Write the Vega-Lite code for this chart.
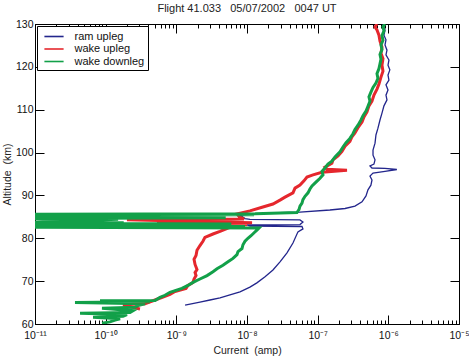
{
  "$schema": "https://vega.github.io/schema/vega-lite/v6.json",
  "width": 424,
  "height": 300,
  "autosize": "none",
  "padding": {"left": 35, "top": 24, "right": 10, "bottom": 36},
  "title": {
    "text": "Flight 41.033\u00a0\u00a0 05/07/2002\u00a0\u00a0 0047 UT",
    "fontSize": 11, "fontWeight": "normal", "font": "Liberation Sans",
    "anchor": "middle", "offset": 5, "color": "#222222"
  },
  "config": {
    "view": {"stroke": "black", "strokeWidth": 1},
    "font": "Liberation Sans",
    "axis": {
      "grid": false, "domainColor": "black", "tickColor": "black",
      "labelColor": "#111111", "titleColor": "#222222",
      "labelFont": "Liberation Sans", "titleFont": "Liberation Sans",
      "labelFontSize": 10.5, "titleFontSize": 10.5, "titleFontWeight": "normal"
    },
    "legend": {
      "orient": "top-left", "offset": 2, "strokeColor": "black", "fillColor": "white",
      "padding": 3.5, "symbolType": "M-1.6,0H1.6", "symbolSize": 144, "symbolStrokeWidth": 1.6,
      "symbolOffset": 6.5, "labelOffset": 13.5, "rowPadding": 0.5,
      "labelFontSize": 11, "labelFont": "Liberation Sans", "labelColor": "#111111",
      "cornerRadius": 0
    }
  },
  "datasets": {
    "profiles": [
      {"s": "ram upleg", "a": 64.4, "c": 1.33e-9},
      {"s": "ram upleg", "a": 65.1, "c": 2.16e-9},
      {"s": "ram upleg", "a": 65.6, "c": 2.99e-9},
      {"s": "ram upleg", "a": 66.1, "c": 4.15e-9},
      {"s": "ram upleg", "a": 66.8, "c": 5.74e-9},
      {"s": "ram upleg", "a": 67.5, "c": 7.96e-9},
      {"s": "ram upleg", "a": 68.6, "c": 1.10e-8},
      {"s": "ram upleg", "a": 69.6, "c": 1.38e-8},
      {"s": "ram upleg", "a": 71.0, "c": 1.80e-8},
      {"s": "ram upleg", "a": 72.6, "c": 2.33e-8},
      {"s": "ram upleg", "a": 74.5, "c": 2.93e-8},
      {"s": "ram upleg", "a": 76.6, "c": 3.68e-8},
      {"s": "ram upleg", "a": 78.9, "c": 4.47e-8},
      {"s": "ram upleg", "a": 81.5, "c": 5.26e-8},
      {"s": "ram upleg", "a": 82.2, "c": 6.19e-8},
      {"s": "ram upleg", "a": 82.75, "c": 6.00e-8},
      {"s": "ram upleg", "a": 82.87, "c": 1.10e-8},
      {"s": "ram upleg", "a": 83.1, "c": 1.00e-8},
      {"s": "ram upleg", "a": 83.2, "c": 5.62e-8},
      {"s": "ram upleg", "a": 83.8, "c": 6.19e-8},
      {"s": "ram upleg", "a": 84.3, "c": 5.62e-8},
      {"s": "ram upleg", "a": 84.4, "c": 1.10e-8},
      {"s": "ram upleg", "a": 84.6, "c": 9.37e-9},
      {"s": "ram upleg", "a": 85.4, "c": 7.96e-9},
      {"s": "ram upleg", "a": 85.9, "c": 2.11e-8},
      {"s": "ram upleg", "a": 86.1, "c": 5.62e-8},
      {"s": "ram upleg", "a": 86.6, "c": 1.49e-7},
      {"s": "ram upleg", "a": 86.95, "c": 2.44e-7},
      {"s": "ram upleg", "a": 87.5, "c": 3.37e-7},
      {"s": "ram upleg", "a": 88.5, "c": 4.24e-7},
      {"s": "ram upleg", "a": 89.9, "c": 4.83e-7},
      {"s": "ram upleg", "a": 91.3, "c": 5.15e-7},
      {"s": "ram upleg", "a": 92.4, "c": 5.67e-7},
      {"s": "ram upleg", "a": 93.6, "c": 5.87e-7},
      {"s": "ram upleg", "a": 94.5, "c": 5.50e-7},
      {"s": "ram upleg", "a": 95.2, "c": 6.07e-7},
      {"s": "ram upleg", "a": 95.6, "c": 8.97e-7},
      {"s": "ram upleg", "a": 96.05, "c": 1.32e-6},
      {"s": "ram upleg", "a": 96.3, "c": 8.97e-7},
      {"s": "ram upleg", "a": 96.4, "c": 5.87e-7},
      {"s": "ram upleg", "a": 96.9, "c": 5.50e-7},
      {"s": "ram upleg", "a": 97.3, "c": 6.26e-7},
      {"s": "ram upleg", "a": 98.3, "c": 6.48e-7},
      {"s": "ram upleg", "a": 99.4, "c": 6.07e-7},
      {"s": "ram upleg", "a": 100.6, "c": 6.07e-7},
      {"s": "ram upleg", "a": 102.2, "c": 6.48e-7},
      {"s": "ram upleg", "a": 104.1, "c": 6.68e-7},
      {"s": "ram upleg", "a": 105.7, "c": 7.13e-7},
      {"s": "ram upleg", "a": 107.6, "c": 7.62e-7},
      {"s": "ram upleg", "a": 109.2, "c": 8.13e-7},
      {"s": "ram upleg", "a": 110.9, "c": 8.67e-7},
      {"s": "ram upleg", "a": 112.3, "c": 9.57e-7},
      {"s": "ram upleg", "a": 113.4, "c": 9.26e-7},
      {"s": "ram upleg", "a": 114.6, "c": 9.89e-7},
      {"s": "ram upleg", "a": 115.8, "c": 9.26e-7},
      {"s": "ram upleg", "a": 116.9, "c": 1.02e-6},
      {"s": "ram upleg", "a": 118.1, "c": 9.89e-7},
      {"s": "ram upleg", "a": 119.3, "c": 1.05e-6},
      {"s": "ram upleg", "a": 120.4, "c": 9.89e-7},
      {"s": "ram upleg", "a": 121.6, "c": 1.02e-6},
      {"s": "ram upleg", "a": 122.8, "c": 9.26e-7},
      {"s": "ram upleg", "a": 123.9, "c": 9.57e-7},
      {"s": "ram upleg", "a": 125.1, "c": 8.97e-7},
      {"s": "ram upleg", "a": 126.3, "c": 9.26e-7},
      {"s": "ram upleg", "a": 127.4, "c": 8.67e-7},
      {"s": "ram upleg", "a": 128.6, "c": 8.97e-7},
      {"s": "ram upleg", "a": 130.0, "c": 8.40e-7},

      {"s": "wake upleg", "a": 63.5, "c": 3.06e-10},
      {"s": "wake upleg", "a": 64.4, "c": 1.76e-10},
      {"s": "wake upleg", "a": 64.6, "c": 2.44e-10},
      {"s": "wake upleg", "a": 64.7, "c": 3.60e-10},
      {"s": "wake upleg", "a": 65.6, "c": 4.99e-10},
      {"s": "wake upleg", "a": 66.3, "c": 6.47e-10},
      {"s": "wake upleg", "a": 66.9, "c": 8.13e-10},
      {"s": "wake upleg", "a": 67.6, "c": 9.57e-10},
      {"s": "wake upleg", "a": 68.3, "c": 1.37e-9},
      {"s": "wake upleg", "a": 69.0, "c": 1.46e-9},
      {"s": "wake upleg", "a": 69.7, "c": 1.72e-9},
      {"s": "wake upleg", "a": 70.5, "c": 1.78e-9},
      {"s": "wake upleg", "a": 71.3, "c": 1.90e-9},
      {"s": "wake upleg", "a": 72.0, "c": 1.84e-9},
      {"s": "wake upleg", "a": 72.7, "c": 1.96e-9},
      {"s": "wake upleg", "a": 73.9, "c": 1.84e-9},
      {"s": "wake upleg", "a": 75.1, "c": 1.78e-9},
      {"s": "wake upleg", "a": 76.0, "c": 1.90e-9},
      {"s": "wake upleg", "a": 77.2, "c": 1.96e-9},
      {"s": "wake upleg", "a": 78.3, "c": 2.16e-9},
      {"s": "wake upleg", "a": 79.3, "c": 2.38e-9},
      {"s": "wake upleg", "a": 80.2, "c": 2.54e-9},
      {"s": "wake upleg", "a": 81.0, "c": 3.30e-9},
      {"s": "wake upleg", "a": 81.6, "c": 4.15e-9},
      {"s": "wake upleg", "a": 82.4, "c": 5.38e-9},
      {"s": "wake upleg", "a": 82.9, "c": 6.76e-9},
      {"s": "wake upleg", "a": 83.2, "c": 1.00e-8},
      {"s": "wake upleg", "a": 83.5, "c": 5.32e-10},
      {"s": "wake upleg", "a": 83.6, "c": 1.18e-8},
      {"s": "wake upleg", "a": 84.3, "c": 2.00e-10},
      {"s": "wake upleg", "a": 84.5, "c": 9.07e-9},
      {"s": "wake upleg", "a": 85.0, "c": 7.80e-9},
      {"s": "wake upleg", "a": 85.7, "c": 7.22e-9},
      {"s": "wake upleg", "a": 86.4, "c": 1.10e-8},
      {"s": "wake upleg", "a": 87.3, "c": 1.68e-8},
      {"s": "wake upleg", "a": 88.0, "c": 2.33e-8},
      {"s": "wake upleg", "a": 88.9, "c": 2.93e-8},
      {"s": "wake upleg", "a": 89.6, "c": 3.45e-8},
      {"s": "wake upleg", "a": 90.6, "c": 4.47e-8},
      {"s": "wake upleg", "a": 91.7, "c": 4.78e-8},
      {"s": "wake upleg", "a": 92.4, "c": 5.62e-8},
      {"s": "wake upleg", "a": 93.4, "c": 6.40e-8},
      {"s": "wake upleg", "a": 94.3, "c": 7.06e-8},
      {"s": "wake upleg", "a": 94.8, "c": 8.59e-8},
      {"s": "wake upleg", "a": 95.4, "c": 1.15e-7},
      {"s": "wake upleg", "a": 95.9, "c": 2.60e-7},
      {"s": "wake upleg", "a": 96.1, "c": 1.35e-7},
      {"s": "wake upleg", "a": 96.6, "c": 1.27e-7},
      {"s": "wake upleg", "a": 97.5, "c": 1.59e-7},
      {"s": "wake upleg", "a": 98.3, "c": 1.65e-7},
      {"s": "wake upleg", "a": 99.2, "c": 1.94e-7},
      {"s": "wake upleg", "a": 100.3, "c": 2.21e-7},
      {"s": "wake upleg", "a": 101.5, "c": 2.44e-7},
      {"s": "wake upleg", "a": 102.6, "c": 2.86e-7},
      {"s": "wake upleg", "a": 103.7, "c": 3.06e-7},
      {"s": "wake upleg", "a": 104.6, "c": 3.37e-7},
      {"s": "wake upleg", "a": 105.8, "c": 3.72e-7},
      {"s": "wake upleg", "a": 107.1, "c": 4.24e-7},
      {"s": "wake upleg", "a": 108.3, "c": 4.52e-7},
      {"s": "wake upleg", "a": 109.5, "c": 4.99e-7},
      {"s": "wake upleg", "a": 110.9, "c": 5.32e-7},
      {"s": "wake upleg", "a": 112.0, "c": 5.87e-7},
      {"s": "wake upleg", "a": 113.4, "c": 6.26e-7},
      {"s": "wake upleg", "a": 114.8, "c": 6.91e-7},
      {"s": "wake upleg", "a": 116.0, "c": 7.37e-7},
      {"s": "wake upleg", "a": 117.6, "c": 7.87e-7},
      {"s": "wake upleg", "a": 119.0, "c": 8.40e-7},
      {"s": "wake upleg", "a": 120.4, "c": 8.13e-7},
      {"s": "wake upleg", "a": 121.9, "c": 8.40e-7},
      {"s": "wake upleg", "a": 123.2, "c": 7.87e-7},
      {"s": "wake upleg", "a": 124.6, "c": 8.13e-7},
      {"s": "wake upleg", "a": 126.0, "c": 7.62e-7},
      {"s": "wake upleg", "a": 127.4, "c": 7.37e-7},
      {"s": "wake upleg", "a": 128.6, "c": 6.91e-7},
      {"s": "wake upleg", "a": 129.3, "c": 6.48e-7},
      {"s": "wake upleg", "a": 130.0, "c": 6.91e-7},

      {"s": "wake downleg", "a": 60.2, "c": 8.87e-11},
      {"s": "wake downleg", "a": 60.5, "c": 1.15e-10},
      {"s": "wake downleg", "a": 60.9, "c": 1.36e-10},
      {"s": "wake downleg", "a": 61.2, "c": 1.60e-10},
      {"s": "wake downleg", "a": 61.6, "c": 6.63e-11},
      {"s": "wake downleg", "a": 61.8, "c": 1.76e-10},
      {"s": "wake downleg", "a": 62.2, "c": 2.00e-10},
      {"s": "wake downleg", "a": 62.5, "c": 4.34e-11},
      {"s": "wake downleg", "a": 62.7, "c": 2.21e-10},
      {"s": "wake downleg", "a": 63.1, "c": 2.44e-10},
      {"s": "wake downleg", "a": 63.7, "c": 8.87e-11},
      {"s": "wake downleg", "a": 63.9, "c": 2.60e-10},
      {"s": "wake downleg", "a": 64.3, "c": 2.87e-10},
      {"s": "wake downleg", "a": 64.7, "c": 3.60e-10},
      {"s": "wake downleg", "a": 65.0, "c": 3.68e-11},
      {"s": "wake downleg", "a": 65.2, "c": 4.24e-10},
      {"s": "wake downleg", "a": 65.4, "c": 8.32e-11},
      {"s": "wake downleg", "a": 65.5, "c": 4.99e-10},
      {"s": "wake downleg", "a": 66.2, "c": 5.87e-10},
      {"s": "wake downleg", "a": 66.7, "c": 6.91e-10},
      {"s": "wake downleg", "a": 67.4, "c": 8.13e-10},
      {"s": "wake downleg", "a": 68.3, "c": 1.20e-9},
      {"s": "wake downleg", "a": 69.0, "c": 1.46e-9},
      {"s": "wake downleg", "a": 69.7, "c": 1.72e-9},
      {"s": "wake downleg", "a": 70.5, "c": 2.16e-9},
      {"s": "wake downleg", "a": 71.3, "c": 2.72e-9},
      {"s": "wake downleg", "a": 72.2, "c": 3.30e-9},
      {"s": "wake downleg", "a": 72.9, "c": 3.76e-9},
      {"s": "wake downleg", "a": 73.7, "c": 4.57e-9},
      {"s": "wake downleg", "a": 74.5, "c": 5.38e-9},
      {"s": "wake downleg", "a": 75.3, "c": 6.34e-9},
      {"s": "wake downleg", "a": 76.2, "c": 7.22e-9},
      {"s": "wake downleg", "a": 76.9, "c": 7.46e-9},
      {"s": "wake downleg", "a": 77.6, "c": 8.49e-9},
      {"s": "wake downleg", "a": 78.5, "c": 8.77e-9},
      {"s": "wake downleg", "a": 79.3, "c": 9.37e-9},
      {"s": "wake downleg", "a": 80.0, "c": 1.03e-8},
      {"s": "wake downleg", "a": 80.6, "c": 1.14e-8},
      {"s": "wake downleg", "a": 81.3, "c": 1.26e-8},
      {"s": "wake downleg", "a": 81.9, "c": 1.38e-8},
      {"s": "wake downleg", "a": 82.4, "c": 1.48e-8},
      {"s": "wake downleg", "a": 82.6, "c": 1.0e-11},
      {"s": "wake downleg", "a": 82.75, "c": 9.37e-9},
      {"s": "wake downleg", "a": 82.9, "c": 1.0e-11},
      {"s": "wake downleg", "a": 83.05, "c": 3.0e-10},
      {"s": "wake downleg", "a": 83.2, "c": 1.0e-11},
      {"s": "wake downleg", "a": 83.35, "c": 6.0e-9},
      {"s": "wake downleg", "a": 83.5, "c": 1.0e-11},
      {"s": "wake downleg", "a": 83.65, "c": 1.8e-10},
      {"s": "wake downleg", "a": 83.8, "c": 1.0e-11},
      {"s": "wake downleg", "a": 84.45, "c": 1.5e-10},
      {"s": "wake downleg", "a": 84.6, "c": 1.0e-11},
      {"s": "wake downleg", "a": 84.8, "c": 5.0e-9},
      {"s": "wake downleg", "a": 85.0, "c": 1.0e-11},
      {"s": "wake downleg", "a": 85.2, "c": 2.0e-10},
      {"s": "wake downleg", "a": 85.35, "c": 1.0e-11},
      {"s": "wake downleg", "a": 85.5, "c": 1.26e-8},
      {"s": "wake downleg", "a": 85.6, "c": 1.0e-11},
      {"s": "wake downleg", "a": 85.75, "c": 1.30e-8},
      {"s": "wake downleg", "a": 86.0, "c": 5.09e-8},
      {"s": "wake downleg", "a": 86.7, "c": 5.44e-8},
      {"s": "wake downleg", "a": 87.5, "c": 5.62e-8},
      {"s": "wake downleg", "a": 88.2, "c": 6.00e-8},
      {"s": "wake downleg", "a": 89.0, "c": 6.19e-8},
      {"s": "wake downleg", "a": 89.8, "c": 6.62e-8},
      {"s": "wake downleg", "a": 90.6, "c": 7.30e-8},
      {"s": "wake downleg", "a": 91.5, "c": 7.78e-8},
      {"s": "wake downleg", "a": 92.2, "c": 8.32e-8},
      {"s": "wake downleg", "a": 93.1, "c": 9.46e-8},
      {"s": "wake downleg", "a": 94.0, "c": 1.08e-7},
      {"s": "wake downleg", "a": 94.8, "c": 1.19e-7},
      {"s": "wake downleg", "a": 95.6, "c": 1.15e-7},
      {"s": "wake downleg", "a": 96.4, "c": 1.27e-7},
      {"s": "wake downleg", "a": 97.3, "c": 1.40e-7},
      {"s": "wake downleg", "a": 98.0, "c": 1.59e-7},
      {"s": "wake downleg", "a": 99.0, "c": 1.76e-7},
      {"s": "wake downleg", "a": 100.2, "c": 2.07e-7},
      {"s": "wake downleg", "a": 101.3, "c": 2.28e-7},
      {"s": "wake downleg", "a": 102.3, "c": 2.52e-7},
      {"s": "wake downleg", "a": 103.3, "c": 2.86e-7},
      {"s": "wake downleg", "a": 104.4, "c": 3.16e-7},
      {"s": "wake downleg", "a": 105.4, "c": 3.37e-7},
      {"s": "wake downleg", "a": 106.4, "c": 3.72e-7},
      {"s": "wake downleg", "a": 107.6, "c": 4.10e-7},
      {"s": "wake downleg", "a": 108.6, "c": 4.38e-7},
      {"s": "wake downleg", "a": 109.7, "c": 4.83e-7},
      {"s": "wake downleg", "a": 110.8, "c": 5.15e-7},
      {"s": "wake downleg", "a": 112.0, "c": 5.50e-7},
      {"s": "wake downleg", "a": 113.0, "c": 5.32e-7},
      {"s": "wake downleg", "a": 114.1, "c": 5.67e-7},
      {"s": "wake downleg", "a": 115.2, "c": 6.07e-7},
      {"s": "wake downleg", "a": 116.2, "c": 6.68e-7},
      {"s": "wake downleg", "a": 117.3, "c": 7.13e-7},
      {"s": "wake downleg", "a": 118.4, "c": 6.91e-7},
      {"s": "wake downleg", "a": 119.6, "c": 7.37e-7},
      {"s": "wake downleg", "a": 120.7, "c": 7.62e-7},
      {"s": "wake downleg", "a": 121.8, "c": 7.87e-7},
      {"s": "wake downleg", "a": 122.9, "c": 7.62e-7},
      {"s": "wake downleg", "a": 124.0, "c": 8.13e-7},
      {"s": "wake downleg", "a": 125.1, "c": 7.87e-7},
      {"s": "wake downleg", "a": 126.2, "c": 8.40e-7},
      {"s": "wake downleg", "a": 127.3, "c": 8.13e-7},
      {"s": "wake downleg", "a": 128.4, "c": 8.67e-7},
      {"s": "wake downleg", "a": 129.4, "c": 8.40e-7},
      {"s": "wake downleg", "a": 130.0, "c": 8.97e-7}
    ]
  },
  "data": {"name": "profiles"},
  "layer": [
    {
      "transform": [{"filter": "datum.s === 'ram upleg'"}],
      "mark": {"type": "line", "clip": true, "strokeWidth": 1.3},
      "encoding": {
        "x": {
          "field": "c", "type": "quantitative",
          "scale": {"type": "log", "domain": [1e-11, 1e-5]},
          "axis": {
            "orient": "bottom",
            "title": "Current\u00a0\u00a0(amp)",
            "values": [1e-11, 2e-11, 3e-11, 4e-11, 5e-11, 6e-11, 7e-11, 8e-11, 9e-11,
                       1e-10, 2e-10, 3e-10, 4e-10, 5e-10, 6e-10, 7e-10, 8e-10, 9e-10,
                       1e-9, 2e-9, 3e-9, 4e-9, 5e-9, 6e-9, 7e-9, 8e-9, 9e-9,
                       1e-8, 2e-8, 3e-8, 4e-8, 5e-8, 6e-8, 7e-8, 8e-8, 9e-8,
                       1e-7, 2e-7, 3e-7, 4e-7, 5e-7, 6e-7, 7e-7, 8e-7, 9e-7,
                       1e-6, 2e-6, 3e-6, 4e-6, 5e-6, 6e-6, 7e-6, 8e-6, 9e-6, 1e-5],
            "tickSize": {"condition": {"test": "abs(log(datum.value)/LN10 - round(log(datum.value)/LN10)) < 0.001", "value": -9}, "value": -4},
            "labelExpr": "abs(log(datum.value)/LN10 - round(log(datum.value)/LN10)) < 0.001 ? '10' + ['\u207b\u00b9\u00b9','\u207b\u00b9\u2070','\u207b\u2079','\u207b\u2078','\u207b\u2077','\u207b\u2076','\u207b\u2075'][round(log(datum.value)/LN10) + 11] : ''",
            "labelFlush": false, "labelOverlap": false, "labelPadding": 15,
            "titlePadding": 0
          }
        },
        "y": {
          "field": "a", "type": "quantitative",
          "scale": {"domain": [60, 130], "nice": false, "zero": false},
          "axis": {
            "orient": "left",
            "title": "Altitude\u00a0\u00a0(km)",
            "values": [60, 70, 80, 90, 100, 110, 120, 130],
            "tickSize": -9, "labelPadding": 11, "titlePadding": 3
          }
        },
        "order": {"field": "a", "type": "quantitative"},
        "color": {
          "field": "s", "type": "nominal",
          "scale": {"domain": ["ram upleg", "wake upleg", "wake downleg"], "range": ["#23268c", "#e5272d", "#12a049"]},
          "legend": {"title": null, "symbolStrokeWidth": 1.6}
        }
      }
    },
    {
      "transform": [{"filter": "datum.s !== 'ram upleg'"}],
      "mark": {"type": "line", "clip": true, "strokeWidth": 3},
      "encoding": {
        "x": {"field": "c", "type": "quantitative", "axis": null},
        "y": {"field": "a", "type": "quantitative", "axis": null},
        "order": {"field": "a", "type": "quantitative"},
        "color": {"field": "s", "type": "nominal"}
      }
    },
    {
      "mark": {"type": "point", "opacity": 0},
      "encoding": {
        "x": {
          "field": "c", "type": "quantitative",
          "axis": {
            "orient": "top", "title": null, "labels": false, "domain": false,
            "values": [1e-11, 2e-11, 3e-11, 4e-11, 5e-11, 6e-11, 7e-11, 8e-11, 9e-11,
                       1e-10, 2e-10, 3e-10, 4e-10, 5e-10, 6e-10, 7e-10, 8e-10, 9e-10,
                       1e-9, 2e-9, 3e-9, 4e-9, 5e-9, 6e-9, 7e-9, 8e-9, 9e-9,
                       1e-8, 2e-8, 3e-8, 4e-8, 5e-8, 6e-8, 7e-8, 8e-8, 9e-8,
                       1e-7, 2e-7, 3e-7, 4e-7, 5e-7, 6e-7, 7e-7, 8e-7, 9e-7,
                       1e-6, 2e-6, 3e-6, 4e-6, 5e-6, 6e-6, 7e-6, 8e-6, 9e-6, 1e-5],
            "tickSize": {"condition": {"test": "abs(log(datum.value)/LN10 - round(log(datum.value)/LN10)) < 0.001", "value": -9}, "value": -4}
          }
        },
        "y": {
          "field": "a", "type": "quantitative",
          "axis": {
            "orient": "right", "title": null, "labels": false, "domain": false,
            "values": [60, 70, 80, 90, 100, 110, 120, 130], "tickSize": -9
          }
        }
      }
    }
  ],
  "resolve": {"axis": {"x": "independent", "y": "independent"}}
}
